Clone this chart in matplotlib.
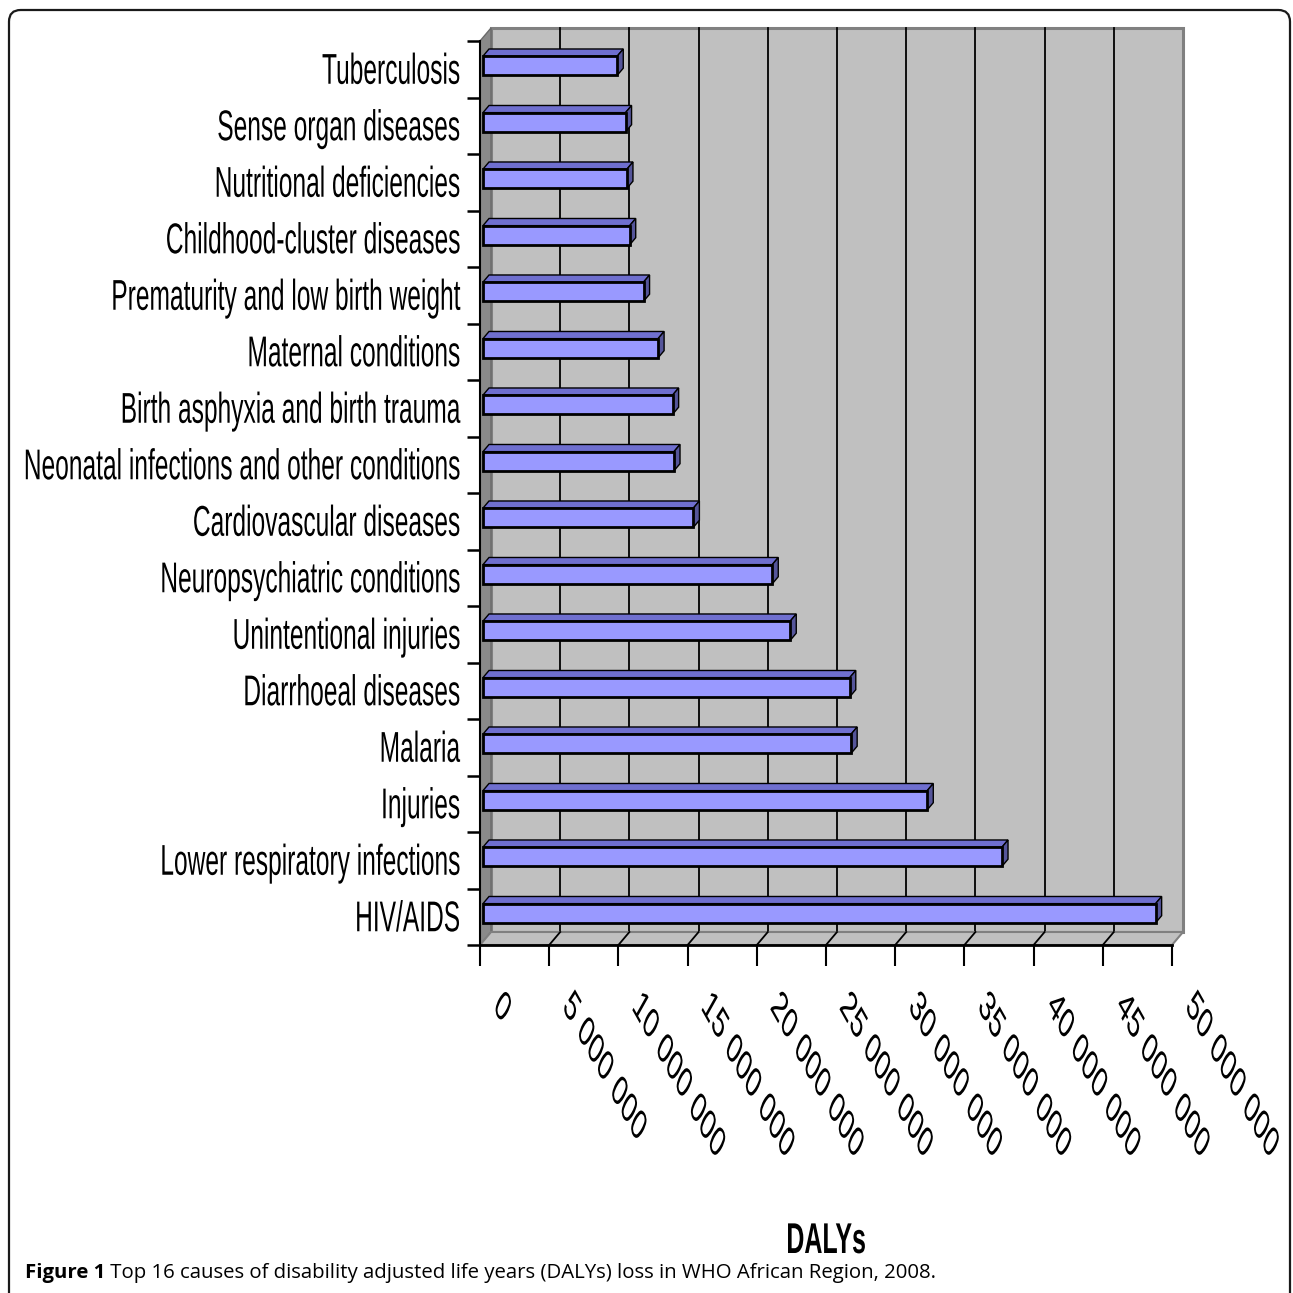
import matplotlib
matplotlib.use("Agg")
import matplotlib.pyplot as plt
from matplotlib.patches import Polygon, Rectangle, FancyBboxPatch
from matplotlib.patheffects import AbstractPathEffect
from matplotlib.text import Text
from matplotlib.transforms import (Affine2D, Bbox, ScaledTranslation,
                                   blended_transform_factory)

# Top 16 causes of DALYs, WHO African Region 2008 (bottom to top)
causes = [
    "HIV/AIDS",
    "Lower respiratory infections",
    "Injuries",
    "Malaria",
    "Diarrhoeal diseases",
    "Unintentional injuries",
    "Neuropsychiatric conditions",
    "Cardiovascular diseases",
    "Neonatal infections and other conditions",
    "Birth asphyxia and birth trauma",
    "Maternal conditions",
    "Prematurity and low birth weight",
    "Childhood-cluster diseases",
    "Nutritional deficiencies",
    "Sense organ diseases",
    "Tuberculosis",
]
dalys = [
    48.6e6, 37.5e6, 32.1e6, 26.6e6, 26.5e6, 22.2e6, 20.9e6, 15.2e6,
    13.8e6, 13.7e6, 12.65e6, 11.6e6, 10.6e6, 10.4e6, 10.3e6, 9.7e6,
]
tick_values = [0, 5e6, 10e6, 15e6, 20e6, 25e6, 30e6, 35e6, 40e6, 45e6, 50e6]
tick_labels = ["0", "5 000 000", "10 000 000", "15 000 000", "20 000 000",
               "25 000 000", "30 000 000", "35 000 000", "40 000 000",
               "45 000 000", "50 000 000"]
axis_title = "DALYs"
caption_bold = "Figure 1"
caption_text = " Top 16 causes of disability adjusted life years (DALYs) loss in WHO African Region, 2008."

FRONT = "#9999ff"
TOP = "#6f6fcf"
SIDE = "#55559a"
WALL = "#c0c0c0"
WALL_EDGE = "#808080"
SIDE_WALL = "#8a8a8a"
FONT = "Liberation Sans"


class Squeeze(AbstractPathEffect):
    """Compress a text horizontally about its anchor point."""

    def __init__(self, text, sx):
        super().__init__()
        self.text = text
        self.sx = sx

    def draw_path(self, renderer, gc, tpath, affine, rgbFace=None):
        x0, _ = self.text.get_transform().transform(self.text.get_position())
        squeeze = Affine2D().translate(-x0, 0).scale(self.sx, 1).translate(x0, 0)
        renderer.draw_path(gc, tpath, affine + squeeze, rgbFace)


class NarrowText(Text):
    """Text drawn with a horizontal compression, reporting its true extent."""

    def __init__(self, *args, sx=0.57, **kwargs):
        super().__init__(*args, **kwargs)
        self._sx = sx
        self.set_path_effects([Squeeze(self, sx)])

    def get_window_extent(self, renderer=None, dpi=None):
        bb = super().get_window_extent(renderer, dpi)
        x0, _ = self.get_transform().transform(self.get_position())
        return Bbox.from_extents(x0 + (bb.x0 - x0) * self._sx, bb.y0,
                                 x0 + (bb.x1 - x0) * self._sx, bb.y1)


W = H = 1293
fig = plt.figure(figsize=(W / 100, H / 100), dpi=100)


def fx(px):
    return px / W


def fy(py):
    return 1 - py / H


ax = fig.add_axes([fx(480), fy(945), fx(1172) - fx(480), fy(41) - fy(945)])
xmax = tick_values[-1]
y0, y1 = -0.5, len(causes) - 0.5
ax.set_xlim(0, xmax)
ax.set_ylim(y0, y1)
ax.patch.set_visible(False)

# depth of the 3-D box in data units
DX = xmax * 11 / 692
DY = (y1 - y0) * 13 / 904

# back wall, side wall and floor
ax.add_patch(Rectangle((DX, y0 + DY), xmax, y1 - y0, fc=WALL, ec=WALL_EDGE,
                       lw=2.2, clip_on=False, zorder=0))
ax.add_patch(Polygon([(0, y0), (DX, y0 + DY), (DX, y1 + DY), (0, y1)],
                     fc=SIDE_WALL, ec="#6a6a6a", lw=1, clip_on=False, zorder=0.5))
ax.add_patch(Polygon([(0, y0), (xmax, y0), (xmax + DX, y0 + DY), (DX, y0 + DY)],
                     fc=WALL, ec=WALL_EDGE, lw=1.5, clip_on=False, zorder=0.5))

# gridlines on the back wall and across the floor
for v in tick_values[1:-1]:
    ax.plot([v + DX, v + DX], [y0 + DY, y1 + DY], color="black", lw=1.3,
            zorder=0.3, clip_on=False)
    ax.plot([v, v + DX], [y0, y0 + DY], color="black", lw=1.3,
            zorder=0.6, clip_on=False)

# 3-D bars: top and side faces, then the front face
h = 0.34
f, b = 0.27, 0.82
for i, v in enumerate(dalys):
    top = [(f * DX, i + f * DY + h / 2), (f * DX + v, i + f * DY + h / 2),
           (b * DX + v, i + b * DY + h / 2), (b * DX, i + b * DY + h / 2)]
    side = [(f * DX + v, i + f * DY - h / 2), (f * DX + v, i + f * DY + h / 2),
            (b * DX + v, i + b * DY + h / 2), (b * DX + v, i + b * DY - h / 2)]
    ax.add_patch(Polygon(top, fc=TOP, ec="black", lw=1.0, zorder=2, clip_on=False))
    ax.add_patch(Polygon(side, fc=SIDE, ec="black", lw=1.0, zorder=2, clip_on=False))
ax.barh([i + f * DY for i in range(len(causes))], dalys, height=h, left=f * DX,
        color=FRONT, edgecolor="black", linewidth=2.0, zorder=3, clip_on=False)

# axes lines and ticks
for side_name in ("top", "right"):
    ax.spines[side_name].set_visible(False)
ax.spines["left"].set_linewidth(1.5)
ax.spines["bottom"].set_linewidth(2)
ax.spines["left"].set_zorder(4)
ax.spines["bottom"].set_zorder(4)
ax.set_yticks([k - 0.5 for k in range(len(causes) + 1)])
ax.set_yticklabels([])
ax.set_xticks(tick_values)
ax.set_xticklabels([])
ax.tick_params(axis="y", length=9.5, width=1.8, direction="out")
ax.tick_params(axis="x", length=15, width=1.5, direction="out")

# category labels
yt = blended_transform_factory(ax.transAxes, ax.transData)
yoff = ScaledTranslation(-0.20, -0.145, fig.dpi_scale_trans)
for i, c in enumerate(causes):
    ax.add_artist(NarrowText(0, i, c, sx=0.57, transform=yt + yoff, ha="right",
                             va="baseline", fontsize=31, family=FONT,
                             clip_on=False))

# value labels, slanted
xt = blended_transform_factory(ax.transData, ax.transAxes)
xoff = ScaledTranslation(0.17, -0.55, fig.dpi_scale_trans)
for v, lab in zip(tick_values, tick_labels):
    ax.add_artist(NarrowText(v, 0, lab, sx=0.56, transform=xt + xoff,
                             rotation=-45, rotation_mode="anchor", ha="left",
                             va="center", fontsize=31, family=FONT,
                             clip_on=False))

# axis title
fig.add_artist(NarrowText(fx(826), fy(1253), axis_title, sx=0.58,
                          transform=fig.transFigure, ha="center",
                          va="baseline", fontsize=31, weight="bold",
                          family=FONT))

# rounded frame and caption
fig.add_artist(FancyBboxPatch((fx(9), -0.1), fx(1290) - fx(9), fy(10) + 0.1,
                              boxstyle="round,pad=0,rounding_size=0.009",
                              transform=fig.transFigure, fc="none",
                              ec="#1a1a1a", lw=1.6))
cap1 = fig.text(fx(25), fy(1278), caption_bold, ha="left", va="baseline",
                fontsize=14.7, weight="bold", family="Open Sans")
renderer = fig.canvas.get_renderer()
bb = cap1.get_window_extent(renderer=renderer)
fig.text(bb.x1 / W, fy(1278), caption_text, ha="left", va="baseline",
         fontsize=14.7, family="Open Sans")

fig.savefig("out.png", dpi=100)
